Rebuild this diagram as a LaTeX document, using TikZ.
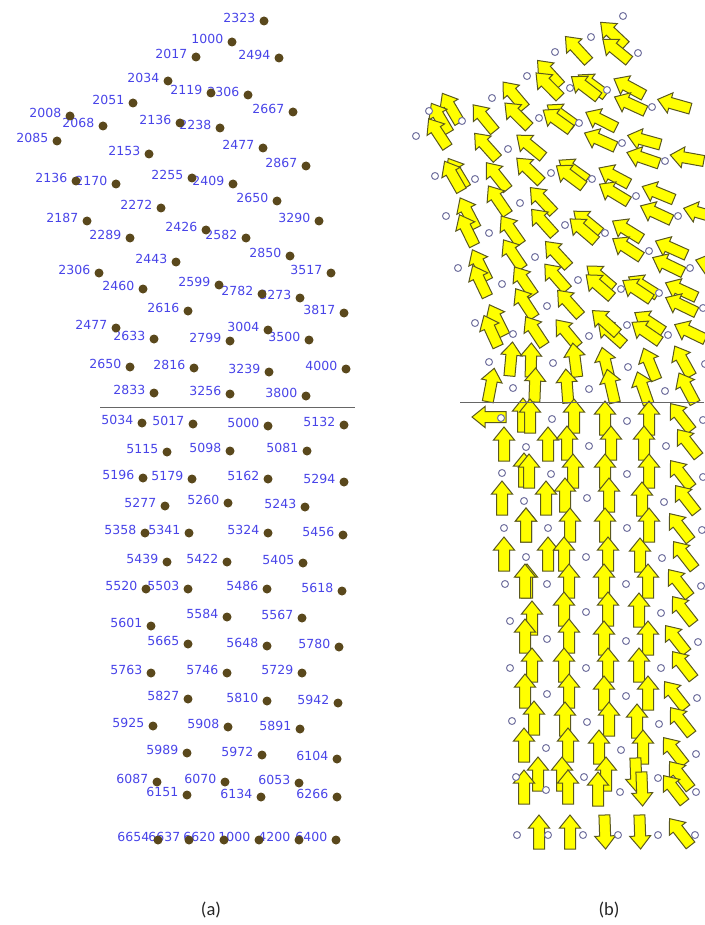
\documentclass[tikz,border=0pt]{standalone}
\usepackage{fontspec}
\usepackage{tikz}
\setmainfont{DejaVu Sans}
\newfontfamily\capfont{Carlito}
\definecolor{labelblue}{RGB}{72,68,232}
\definecolor{dotbrown}{RGB}{90,72,28}
\definecolor{ringgray}{RGB}{115,115,160}
\definecolor{arrowyellow}{RGB}{255,255,0}
\definecolor{arrowedge}{RGB}{90,88,30}

% x / y / number / arrows (1 right, 2 left, 3 both, 5 both with left one turned back)
\newcommand{\meshnodes}{%
264/21/2323/0, 232/42/1000/1, 196/57/2017/1, 279/58/2494/2, 168/81/2034/1,
211/93/2119/3, 248/95/2306/3, 293/112/2667/3, 133/103/2051/1, 70/116/2008/1,
103/126/2068/3, 180/123/2136/3, 220/128/2238/3, 57/141/2085/1, 149/154/2153/3,
263/148/2477/3, 306/166/2867/3, 76/181/2136/1, 116/184/2170/3, 192/178/2255/3,
233/184/2409/3, 277/201/2650/3, 161/208/2272/3, 319/221/3290/3, 87/221/2187/1,
130/238/2289/3, 206/230/2426/3, 246/238/2582/3, 290/256/2850/3, 176/262/2443/3,
99/273/2306/1, 331/273/3517/3, 143/289/2460/3, 219/285/2599/3, 262/294/2782/3,
300/298/3273/3, 188/311/2616/3, 344/313/3817/3, 116/328/2477/1, 154/339/2633/3,
230/341/2799/3, 268/330/3004/3, 309/340/3500/3, 130/367/2650/1, 194/368/2816/3,
269/372/3239/3, 346/369/4000/3, 154/393/2833/3, 230/394/3256/3, 306/396/3800/3,
142/423/5034/5, 193/424/5017/3, 268/426/5000/3, 344/425/5132/3, 167/452/5115/3,
230/451/5098/3, 307/451/5081/3, 143/478/5196/1, 192/479/5179/3, 268/479/5162/3,
344/482/5294/3, 165/506/5277/3, 228/503/5260/3, 305/507/5243/3, 145/533/5358/1,
189/533/5341/3, 268/533/5324/3, 343/535/5456/3, 167/562/5439/3, 227/562/5422/3,
303/563/5405/3, 146/589/5520/1, 188/589/5503/3, 267/589/5486/3, 342/591/5618/3,
151/626/5601/1, 227/617/5584/3, 302/618/5567/3, 188/644/5665/3, 267/646/5648/3,
339/647/5780/3, 151/673/5763/1, 227/673/5746/3, 302/673/5729/3, 188/699/5827/3,
267/701/5810/3, 338/703/5942/3, 153/726/5925/1, 228/727/5908/3, 300/729/5891/3,
187/753/5989/3, 262/755/5972/3, 337/759/6104/3, 157/782/6087/1, 225/782/6070/3,
299/783/6053/3, 187/795/6151/3, 261/797/6134/3, 337/797/6266/3, 158/840/6654/1,
189/840/6637/1, 224/840/6620/1, 259/840/1000/1, 299/840/4200/1, 336/840/6400/0}

\newcommand{\flowarrow}[2]{%
  \pgfmathsetmacro\arrx{#1}%
  \pgfmathsetmacro\arry{#2}%
  \pgfmathsetmacro\leftedge{(\arry<136) ? (416+1.7*(136-\arry)) : (416+0.32*(\arry-136))}%
  \pgfmathsetmacro\arrang{(\arry>400) ? ((\arrx>672) ? 128 : ((((\arry>770) && (\arrx>625)) || ((\arry>815) && (\arrx>595))) ? 272 : 90)) : min(178, ((\arry>345) ? 80 : 112) + 0.2*(\arrx-\leftedge) + max(0, 0.12*(200-\arry)))}%
  \pic[rotate=\arrang] at (\arrx,\arry) {yarrow};}

\begin{document}
\begin{tikzpicture}[x=1pt, y=-1pt,
  meshlabel/.style={text=labelblue, inner sep=0pt, font=\fontsize{12.5}{14}\selectfont},
  meshdot/.style={circle, fill=dotbrown, inner sep=0pt, minimum size=9},
  meshring/.style={circle, draw=ringgray, fill=white, line width=1, inner sep=0pt, minimum size=7},
  caplabel/.style={text=black!85, font=\capfont\fontsize{18.5}{20}\selectfont},
  yarrow/.pic={\draw[fill=arrowyellow, draw=arrowedge, line width=1]
    (-17,-5.5) -- (4,-5.5) -- (4,-10.5) -- (17,0) -- (4,10.5) -- (4,5.5) -- (-17,5.5) -- cycle;}]
\useasboundingbox (0,0) rectangle (704,925);

% (a) numbered mesh points
\foreach \x/\y/\t/\f [count=\i] in \meshnodes
  \node[meshlabel, anchor=base east] (l\i) at (\x-8.5,\y+1.5) {\t};
\foreach \x/\y/\t/\f [count=\i] in \meshnodes
  \node[meshdot] (p\i) at (\x,\y) {};
\draw[black!60, line width=1.6] (100,407.5) -- (355,407.5);

% (b) flow arrows on the same mesh
\foreach \x/\y/\t/\f in \meshnodes {
  \pgfmathsetmacro\bx{\x+359}
  \pgfmathsetmacro\by{\y-5}
  \ifodd\f \flowarrow{\bx+22}{\by-3}\fi
  \ifnum\f>4 \pic[rotate=180] at (\bx-12,\by-1) {yarrow};
  \else\ifnum\f>1 \flowarrow{\bx-22}{\by-3}\fi\fi
}
\foreach \x/\y/\t/\f [count=\i] in \meshnodes
  \node[meshring] (q\i) at (\x+359,\y-5) {};
\draw[black!60, line width=1.6] (460,402.5) -- (704,402.5);

\node[caplabel] (capa) at (211,910) {(a)};
\node[caplabel] (capb) at (609,910) {(b)};
\end{tikzpicture}
\end{document}
